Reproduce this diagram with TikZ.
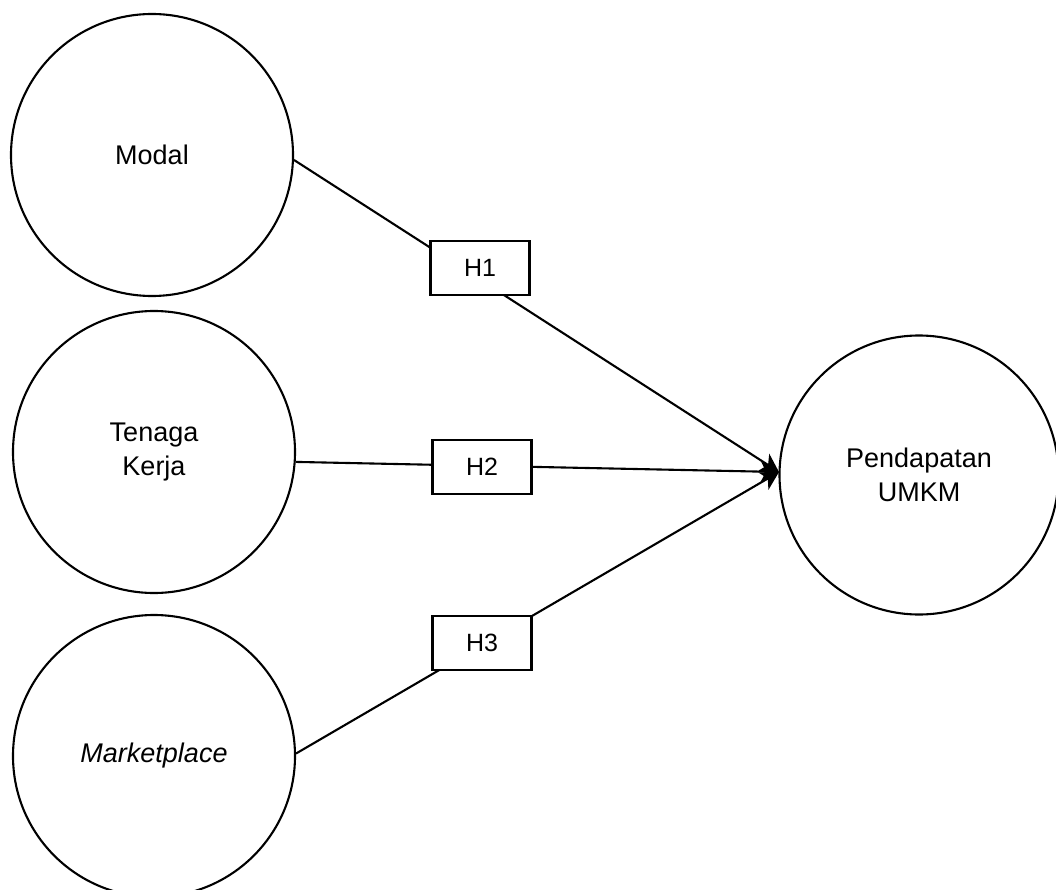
\documentclass[tikz,border=0pt]{standalone}
\usepackage{fontspec}
\setmainfont{Liberation Sans}
\usetikzlibrary{arrows.meta}
\begin{document}
\begin{tikzpicture}[x=1pt,y=-1pt,
  var/.style={circle,draw,line width=2.1pt,minimum size=282pt,inner sep=0pt,align=center,font=\fontsize{27}{34}\selectfont},
  hyp/.style={rectangle,draw,fill=white,line width=2.1pt,minimum width=99pt,minimum height=54pt,inner sep=0pt,font=\fontsize{25}{30}\selectfont},
  link/.style={line width=2.1pt,-{Stealth[length=18pt,width=20pt,inset=5pt]}}]
\useasboundingbox (0,0) rectangle (1056,890);
\clip (0,0) rectangle (1056,890);
\node[var] (modal) at (152,155) {Modal};
\node[var] (tk) at (154,452) {Tenaga\\Kerja};
\node[var] (mp) at (154,756) {\itshape Marketplace};
\node[var,minimum size=279pt] (pend) at (919,475) {Pendapatan\\UMKM};
\coordinate (tip) at (779,472);
\draw[link] (modal.-2) -- (tip);
\draw[link] (tk.-4) -- (tip);
\draw[link] (mp.1) -- (tip);
\node[hyp] (h1) at (480,268) {H1};
\node[hyp] (h2) at (482,467) {H2};
\node[hyp] (h3) at (482,643) {H3};
\end{tikzpicture}
\end{document}
